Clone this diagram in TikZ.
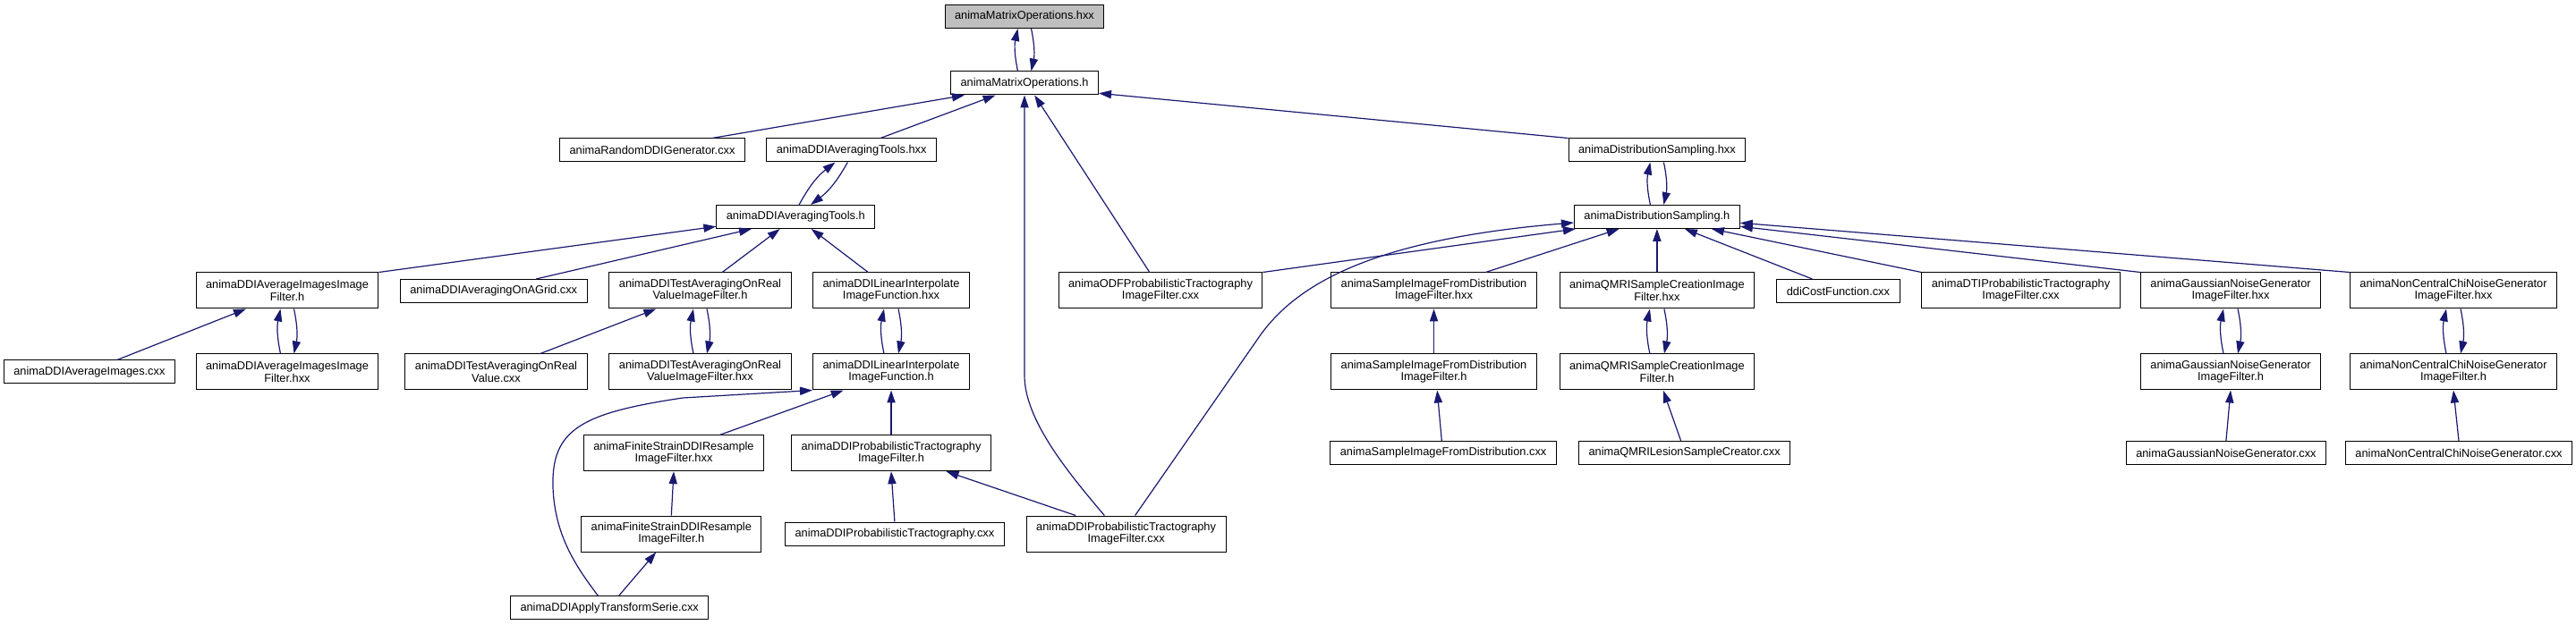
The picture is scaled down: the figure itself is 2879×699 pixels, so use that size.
\documentclass[tikz,border=0pt]{standalone}
\usepackage{fontspec}
\setmainfont{Liberation Sans}
\usetikzlibrary{arrows.meta}
\definecolor{edgeblue}{RGB}{25,25,112}
\definecolor{rootgray}{RGB}{191,191,191}

\begin{document}
\begin{tikzpicture}[x=0.5pt, y=-0.5pt,
    file/.style={draw=black, line width=0.5pt, fill=white, inner xsep=5.5pt, inner ysep=0pt,
        minimum height=13pt, align=center, font=\fontsize{6.4pt}{6.65pt}\selectfont},
    file2/.style={file, minimum height=20pt},
    edge/.style={draw=edgeblue, line width=0.6pt, -{Triangle[length=7pt,width=4.6pt]}},
    pair/.style={edge, bend left=12}]
    \useasboundingbox (0,0) rectangle (2879,699);

    % top
    \node[file, fill=rootgray] (mxx) at (1145,18.5) {animaMatrixOperations.hxx};
    \node[file] (mh) at (1145,93) {animaMatrixOperations.h};

    \node[file] (rnd) at (729,168) {animaRandomDDIGenerator.cxx};
    \node[file] (athxx) at (951.7,168) {animaDDIAveragingTools.hxx};
    \node[file] (dshxx) at (1851.9,168) {animaDistributionSampling.hxx};

    \node[file] (ath) at (889.3,242.5) {animaDDIAveragingTools.h};
    \node[file] (dsh) at (1851.9,242.5) {animaDistributionSampling.h};

    % row 4
    \node[file2] (aifh) at (321,325) {animaDDIAverageImagesImage\\Filter.h};
    \node[file] (agrid) at (551.7,325.5) {animaDDIAveragingOnAGrid.cxx};
    \node[file2] (tafh) at (782.5,325) {animaDDITestAveragingOnReal\\ValueImageFilter.h};
    \node[file2] (lihxx) at (996,325) {animaDDILinearInterpolate\\ImageFunction.hxx};
    \node[file2] (odf) at (1297,325) {animaODFProbabilisticTractography\\ImageFilter.cxx};
    \node[file2] (sfhxx) at (1602.5,325) {animaSampleImageFromDistribution\\ImageFilter.hxx};
    \node[file2] (qmhxx) at (1851.9,325) {animaQMRISampleCreationImage\\Filter.hxx};
    \node[file] (cost) at (2054.4,325.5) {ddiCostFunction.cxx};
    \node[file2] (dti) at (2258.5,325) {animaDTIProbabilisticTractography\\ImageFilter.cxx};
    \node[file2] (gnhxx) at (2493,325) {animaGaussianNoiseGenerator\\ImageFilter.hxx};
    \node[file2] (nchxx) at (2742,325) {animaNonCentralChiNoiseGenerator\\ImageFilter.hxx};

    % row 5
    \node[file] (aic) at (99.9,416) {animaDDIAverageImages.cxx};
    \node[file2] (aifhxx) at (321,416) {animaDDIAverageImagesImage\\Filter.hxx};
    \node[file2] (tarv) at (554.5,416) {animaDDITestAveragingOnReal\\Value.cxx};
    \node[file2] (tafhxx) at (782.5,416) {animaDDITestAveragingOnReal\\ValueImageFilter.hxx};
    \node[file2] (lih) at (996,416) {animaDDILinearInterpolate\\ImageFunction.h};
    \node[file2] (sfh) at (1602.5,416) {animaSampleImageFromDistribution\\ImageFilter.h};
    \node[file2] (qmh) at (1851.9,416) {animaQMRISampleCreationImage\\Filter.h};
    \node[file2] (gnh) at (2493,416) {animaGaussianNoiseGenerator\\ImageFilter.h};
    \node[file2] (nch) at (2742,416) {animaNonCentralChiNoiseGenerator\\ImageFilter.h};

    % row 6
    \node[file2] (fshxx) at (753,506.7) {animaFiniteStrainDDIResample\\ImageFilter.hxx};
    \node[file2] (pth) at (996,506.7) {animaDDIProbabilisticTractography\\ImageFilter.h};
    \node[file] (sdc) at (1613.1,506.5) {animaSampleImageFromDistribution.cxx};
    \node[file] (qml) at (1882.6,506.5) {animaQMRILesionSampleCreator.cxx};
    \node[file] (gnc) at (2487.9,506.5) {animaGaussianNoiseGenerator.cxx};
    \node[file] (ncc) at (2748,506.5) {animaNonCentralChiNoiseGenerator.cxx};

    % row 7 and 8
    \node[file2] (fsh) at (750.3,597) {animaFiniteStrainDDIResample\\ImageFilter.h};
    \node[file] (ptc) at (999.9,597) {animaDDIProbabilisticTractography.cxx};
    \node[file2] (ptfc) at (1258.6,597) {animaDDIProbabilisticTractography\\ImageFilter.cxx};
    \node[file] (ats) at (681.2,679.7) {animaDDIApplyTransformSerie.cxx};

    % header pairs
    \draw[pair] ([xshift=-3.75pt]mh.north) to ([xshift=-3.75pt]mxx.south);
    \draw[pair] ([xshift=3.75pt]mxx.south) to ([xshift=3.75pt]mh.north);
    \draw[pair] ([xshift=1.9pt]ath.north) to ([xshift=-9.1pt]athxx.south);
    \draw[pair] ([xshift=-2.2pt]athxx.south) to ([xshift=8.35pt]ath.north);
    \draw[pair] ([xshift=-3.75pt]dsh.north) to ([xshift=-3.75pt]dshxx.south);
    \draw[pair] ([xshift=3.75pt]dshxx.south) to ([xshift=3.75pt]dsh.north);
    \draw[pair] ([xshift=-3.75pt]aifhxx.north) to ([xshift=-3.75pt]aifh.south);
    \draw[pair] ([xshift=3.75pt]aifh.south) to ([xshift=3.75pt]aifhxx.north);
    \draw[pair] ([xshift=-3.75pt]tafhxx.north) to ([xshift=-3.75pt]tafh.south);
    \draw[pair] ([xshift=3.75pt]tafh.south) to ([xshift=3.75pt]tafhxx.north);
    \draw[pair] ([xshift=-4pt]lih.north) to ([xshift=-4pt]lihxx.south);
    \draw[pair] ([xshift=4pt]lihxx.south) to ([xshift=4pt]lih.north);
    \draw[pair] ([xshift=-4pt]qmh.north) to ([xshift=-4pt]qmhxx.south);
    \draw[pair] ([xshift=4pt]qmhxx.south) to ([xshift=4pt]qmh.north);
    \draw[pair] ([xshift=-4pt]gnh.north) to ([xshift=-4pt]gnhxx.south);
    \draw[pair] ([xshift=4pt]gnhxx.south) to ([xshift=4pt]gnh.north);
    \draw[pair] ([xshift=-4pt]nch.north) to ([xshift=-4pt]nchxx.south);
    \draw[pair] ([xshift=4pt]nchxx.south) to ([xshift=4pt]nch.north);

    % includes of animaMatrixOperations.h
    \draw[edge] ([xshift=33.4pt]rnd.north) -- ([xshift=-33.5pt]mh.south);
    \draw[edge] ([xshift=16.15pt]athxx.north) -- ([xshift=-16.2pt]mh.south);
    \draw[edge] ([xshift=-6.1pt]odf.north) -- ([xshift=5.6pt]mh.south);
    \draw[edge] ([xshift=-12.15pt]ptfc.north) .. controls (1195,530) and (1145,470) .. (1145,420) -- (mh.south);
    \draw[edge] (dshxx.north west) -- ([yshift=-5.65pt]mh.east);

    % includes of animaDDIAveragingTools.h
    \draw[edge] (aifh.north east) -- ([yshift=-5.4pt]ath.west);
    \draw[edge] ([xshift=23.75pt]agrid.north) -- ([xshift=-24.65pt]ath.south);
    \draw[edge] ([xshift=12.35pt]tafh.north) -- ([xshift=-8.8pt]ath.south);
    \draw[edge] ([xshift=-12.9pt]lihxx.north) -- ([xshift=8.7pt]ath.south);

    \draw[edge] ([xshift=15.5pt]aic.north) -- ([xshift=-23pt]aifh.south);
    \draw[edge] ([xshift=24.65pt]tarv.north) -- ([xshift=-24.6pt]tafh.south);

    % interpolation and tractography
    \draw[edge] ([xshift=-6.45pt]ats.north) .. controls (645,635) and (620,600) .. (618,545)
        .. controls (616,480) and (650,462) .. (763,445) -- (lih.south west);
    \draw[edge] ([xshift=26pt]fshxx.north) -- ([xshift=-26.65pt]lih.south);
    \draw[edge] (pth.north) -- (lih.south);
    \draw[edge] (fsh.north) -- (fshxx.south);
    \draw[edge] ([xshift=5.25pt]ats.north) -- ([xshift=-8.5pt]fsh.south);
    \draw[edge] (ptc.north) -- (pth.south);
    \draw[edge] ([xshift=-28.25pt]ptfc.north) -- ([xshift=30.75pt]pth.south);

    % includes of animaDistributionSampling.h
    \draw[edge] ([xshift=5pt]ptfc.north) -- (1405,380) .. controls (1445,320) and (1530,268) .. ([yshift=-3.25pt]dsh.west);
    \draw[edge] (odf.north east) -- ([xshift=1pt]dsh.south west);
    \draw[edge] ([xshift=28.95pt]sfhxx.north) -- ([xshift=-21.15pt]dsh.south);
    \draw[edge] (qmhxx.north) -- (dsh.south);
    \draw[edge] ([xshift=-14.5pt]cost.north) -- ([xshift=15.5pt]dsh.south);
    \draw[edge] (dti.north west) -- ([xshift=30.5pt]dsh.south);
    \draw[edge] (gnhxx.north west) -- ([yshift=-5.4pt]dsh.east);
    \draw[edge] (nchxx.north west) -- ([yshift=-3.4pt]dsh.east);

    \draw[edge] (sfh.north) -- (sfhxx.south);
    \draw[edge] ([xshift=-0.9pt]sdc.north) -- ([xshift=1.85pt]sfh.south);
    \draw[edge] ([xshift=-2pt]qml.north) -- ([xshift=3.4pt]qmh.south);
    \draw[edge] (gnc.north) -- (gnh.south);
    \draw[edge] (ncc.north) -- (nch.south);
\end{tikzpicture}
\end{document}
